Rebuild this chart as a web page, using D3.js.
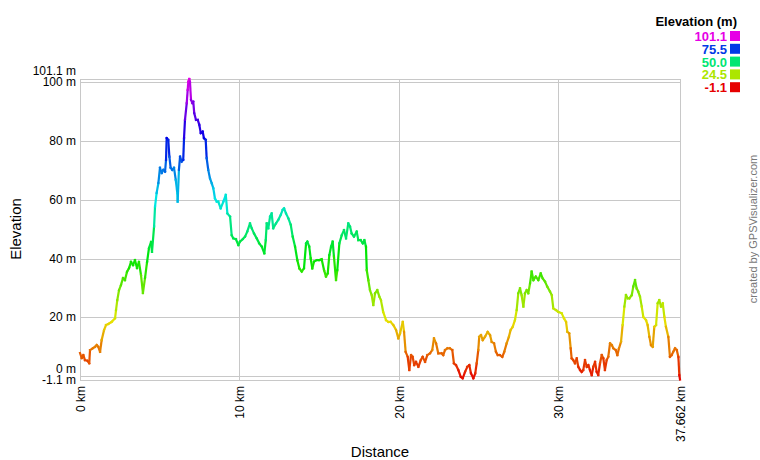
<!DOCTYPE html>
<meta charset="utf-8">
<style>
  body { margin: 0; background: #fff; }
  svg { display: block; font-family: "Liberation Sans", Arial, sans-serif; }
</style>
<body>
<div id="chart"></div>
<script src="https://cdn.jsdelivr.net/npm/d3@7"></script>
<script>

// track profile (km along the track, metres)
var distKm = [0,0.11,0.21,0.31,0.46,0.58,0.63,0.80,0.94,1.05,1.15,1.26,1.36,1.51,1.63,1.78,1.99,2.20,2.26,2.34,
  2.45,2.57,2.70,2.82,2.95,3.08,3.20,3.33,3.45,3.58,3.70,3.83,3.95,4.08,4.21,4.33,4.46,4.52,4.65,4.71,
  4.81,4.92,5.02,5.13,5.23,5.34,5.40,5.44,5.54,5.61,5.69,5.79,5.90,6.01,6.11,6.13,6.21,6.28,6.38,6.48,
  6.53,6.59,6.70,6.76,6.80,6.86,6.90,6.97,7.05,7.11,7.17,7.28,7.39,7.49,7.58,7.70,7.78,7.89,7.95,8.05,
  8.16,8.27,8.37,8.47,8.58,8.68,8.83,9.00,9.15,9.25,9.42,9.52,9.62,9.79,9.94,10.04,10.21,10.36,10.50,10.67,
  10.78,10.92,11.09,11.25,11.41,11.57,11.66,11.72,11.82,11.93,12.03,12.13,12.30,12.45,12.60,12.72,12.81,12.93,13.08,13.23,
  13.35,13.50,13.64,13.77,13.92,14.06,14.19,14.27,14.39,14.48,14.58,14.69,14.86,15.02,15.17,15.32,15.44,15.55,15.65,15.76,
  15.86,15.94,16.07,16.15,16.28,16.43,16.57,16.70,16.84,16.95,17.05,17.20,17.37,17.47,17.62,17.75,17.85,17.95,18.00,18.10,
  18.20,18.31,18.41,18.52,18.66,18.79,18.89,19.03,19.21,19.35,19.50,19.67,19.84,19.98,20.09,20.26,20.34,20.44,20.57,20.67,
  20.78,20.88,20.98,21.09,21.24,21.39,21.51,21.66,21.80,21.97,22.11,22.22,22.35,22.49,22.70,22.80,22.91,23.06,23.22,23.37,
  23.47,23.60,23.75,23.90,24.02,24.17,24.31,24.44,24.54,24.69,24.81,24.90,25.00,25.06,25.17,25.28,25.42,25.59,25.74,25.84,
  25.99,26.11,26.22,26.36,26.51,26.63,26.78,26.92,27.03,27.16,27.30,27.41,27.51,27.62,27.72,27.83,27.93,28.04,28.14,28.25,
  28.35,28.46,28.61,28.77,28.92,29.04,29.19,29.33,29.50,29.61,29.71,29.88,30.02,30.24,30.38,30.51,30.59,30.71,30.80,30.86,
  30.96,31.07,31.18,31.28,31.39,31.49,31.59,31.70,31.81,31.91,32.01,32.12,32.22,32.33,32.43,32.53,32.64,32.75,32.85,32.95,
  33.06,33.16,33.27,33.38,33.48,33.63,33.73,33.83,33.96,34.06,34.17,34.27,34.38,34.48,34.63,34.73,34.84,34.94,35.04,35.15,
  35.26,35.36,35.53,35.63,35.74,35.84,35.95,36.05,36.16,36.26,36.36,36.47,36.58,36.68,36.78,36.93,37.03,37.14,37.24,37.35,
  37.46,37.56,37.62,37.662];

var elevM = [7.9,6.2,7.2,5.5,5.3,4.4,8.9,9.5,10.0,10.6,10.0,8.3,12.3,15.7,17.4,17.8,18.5,19.7,22.5,25.9,
  29.3,31.0,33.4,32.7,35.5,36.8,38.9,37.8,39.5,36.8,38.9,34.4,28.3,33.4,38.9,43.6,45.7,42.3,50.9,57.7,
  62.3,65.7,70.9,69.1,70.2,69.6,73.6,81.0,80.4,74.7,70.9,70.2,70.9,66.8,62.2,59.4,70.2,74.7,73.0,73.6,
  81.0,87.2,92.9,97.4,100.2,101.1,100.2,94.0,92.9,93.4,89.5,87.2,87.2,85.5,82.7,83.2,81.0,80.4,74.2,70.2,
  67.3,65.6,63.9,60.5,59.4,59.4,57.1,59.4,61.7,55.4,54.3,48.0,46.9,46.6,44.6,45.8,46.6,47.5,49.2,52.0,
  50.3,48.6,46.9,45.2,44.1,41.8,46.3,52.0,50.3,54.3,55.4,50.3,52.0,53.2,54.9,56.6,57.1,55.4,53.7,51.5,
  47.5,44.1,39.5,36.7,35.6,36.7,45.2,45.8,44.1,40.1,36.7,39.0,39.5,39.5,39.8,36.1,33.9,35.0,41.2,44.1,
  45.8,40.7,32.7,36.1,45.2,48.0,49.7,46.9,52.0,50.9,48.6,47.5,49.2,46.3,46.3,45.2,46.3,44.1,36.1,32.7,
  29.3,27.6,24.2,28.2,29.3,27.1,25.9,21.9,19.1,18.5,18.5,17.4,15.7,12.9,14.6,18.5,15.1,8.3,6.6,2.1,
  7.2,6.6,3.8,4.9,3.2,5.5,6.6,4.9,7.2,7.8,8.9,12.9,11.2,7.8,7.8,7.2,8.9,9.5,9.5,8.9,
  4.4,3.8,2.1,-0.2,-0.7,1.5,3.2,3.8,1.0,-0.7,1.0,4.4,8.9,13.4,14.0,12.3,13.4,15.1,14.0,11.7,
  11.2,8.3,7.2,7.2,6.6,8.3,11.2,13.4,15.7,16.8,19.1,22.5,28.2,29.9,27.6,23.7,28.2,29.3,28.2,31.6,
  35.6,32.7,33.9,32.7,35.0,33.3,32.2,30.5,28.8,27.6,23.1,22.5,21.9,21.4,19.7,18.5,15.1,14.6,9.5,6.1,
  5.5,4.4,6.1,3.2,2.1,1.5,2.1,5.5,3.2,3.8,2.1,0.4,3.2,4.9,1.5,0.4,4.4,7.2,6.1,2.1,
  5.5,6.6,11.2,10.6,9.5,8.9,7.2,9.5,11.7,17.4,23.7,27.6,26.5,26.5,27.6,30.5,32.7,29.9,28.8,27.1,
  23.7,20.2,19.1,17.4,13.4,10.6,10.0,16.8,17.4,24.8,25.9,23.7,24.8,20.2,16.8,13.4,6.6,7.2,8.3,9.5,
  8.9,6.6,0.4,-1.1];

var elevMin = -1.1, elevMax = 101.1, distMax = 37.662;
var yTicks = [0, 20, 40, 60, 80, 100];
var xTicks = [0, 10, 20, 30];
var legendValues = [101.1, 75.5, 50.0, 24.5, -1.1];

var width = 760, height = 460;

var svg = d3.select("#chart").append("svg")
  .attr("width", width)
  .attr("height", height);

var x = d3.scaleLinear().domain([0, distMax]).range([80, 680]);
var y = d3.scaleLinear().domain([elevMin, elevMax]).range([379.5, 79]);

// red at the bottom, round the hue wheel to magenta at the top
function colorOf(v) {
  var t = (v - elevMin) / (elevMax - elevMin);
  return d3.hsl(300 * t, 1, 0.45).formatHex();
}

// grid
var grid = svg.append("g").attr("stroke", "#c8c8c8").attr("stroke-width", 1).attr("shape-rendering", "crispEdges");
grid.selectAll("line.h")
  .data(yTicks.concat([elevMin, elevMax]))
  .enter().append("line")
    .attr("x1", x(0)).attr("x2", x(distMax))
    .attr("y1", function(d) { return Math.round(y(d)) + 0.5; })
    .attr("y2", function(d) { return Math.round(y(d)) + 0.5; });
grid.selectAll("line.v")
  .data(xTicks.concat([distMax]))
  .enter().append("line")
    .attr("y1", y(elevMin)).attr("y2", y(elevMax))
    .attr("x1", function(d) { return Math.round(x(d)) + 0.5; })
    .attr("x2", function(d) { return Math.round(x(d)) + 0.5; });

// y labels (the border values get nudged so they don't sit on top of the 0 / 100 labels)
var yLabels = yTicks.map(function(v) { return {v: v, text: v + " m", dy: v === 0 ? -7 : 0}; });
yLabels.push({v: elevMax, text: elevMax + " m", dy: -8});
yLabels.push({v: elevMin, text: elevMin + " m", dy: 0});
svg.append("g").selectAll("text")
  .data(yLabels)
  .enter().append("text")
    .attr("x", 76)
    .attr("y", function(d) { return y(d.v) + d.dy + 4; })
    .attr("text-anchor", "end")
    .attr("font-size", 12)
    .attr("fill", "#000")
    .text(function(d) { return d.text; });

// x labels, rotated
var xLabels = xTicks.map(function(v) { return {v: v, text: v + " km"}; });
xLabels.push({v: distMax, text: distMax + " km"});
svg.append("g").selectAll("text")
  .data(xLabels)
  .enter().append("text")
    .attr("transform", function(d) { return "translate(" + (x(d.v) + 5) + ",386) rotate(-90)"; })
    .attr("text-anchor", "end")
    .attr("font-size", 12)
    .attr("fill", "#000")
    .text(function(d) { return d.text; });

// axis titles
svg.append("text")
  .attr("transform", "translate(21,229) rotate(-90)")
  .attr("text-anchor", "middle")
  .attr("font-size", 15)
  .text("Elevation");
svg.append("text")
  .attr("x", 380).attr("y", 457)
  .attr("text-anchor", "middle")
  .attr("font-size", 15)
  .text("Distance");

// profile line, one segment per step, coloured by height
var segs = d3.pairs(d3.zip(distKm, elevM));
svg.append("g")
  .attr("stroke-width", 2.2)
  .attr("stroke-linecap", "square")
  .attr("fill", "none")
  .selectAll("line")
  .data(segs)
  .enter().append("line")
    .attr("x1", function(d) { return x(d[0][0]); })
    .attr("y1", function(d) { return y(d[0][1]); })
    .attr("x2", function(d) { return x(d[1][0]); })
    .attr("y2", function(d) { return y(d[1][1]); })
    .attr("stroke", function(d) { return colorOf((d[0][1] + d[1][1]) / 2); });

// legend
var legend = svg.append("g");
legend.append("text")
  .attr("x", 737).attr("y", 26)
  .attr("text-anchor", "end")
  .attr("font-size", 13)
  .attr("font-weight", "bold")
  .text("Elevation (m)");
var rows = legend.selectAll("g.row")
  .data(legendValues)
  .enter().append("g")
    .attr("transform", function(d, i) { return "translate(0," + (31 + i * 12.8) + ")"; });
rows.append("rect")
  .attr("x", 730).attr("y", 0)
  .attr("width", 10).attr("height", 10)
  .attr("fill", function(d) { return colorOf(d); });
rows.append("text")
  .attr("x", 727).attr("y", 10)
  .attr("text-anchor", "end")
  .attr("font-size", 13)
  .attr("font-weight", "bold")
  .attr("fill", function(d) { return colorOf(d); })
  .text(function(d) { return d.toFixed(1); });

// credit
svg.append("text")
  .attr("transform", "translate(757,229) rotate(-90)")
  .attr("text-anchor", "middle")
  .attr("font-size", 11)
  .attr("fill", "#777")
  .text("created by GPSVisualizer.com");

</script>
</body>
